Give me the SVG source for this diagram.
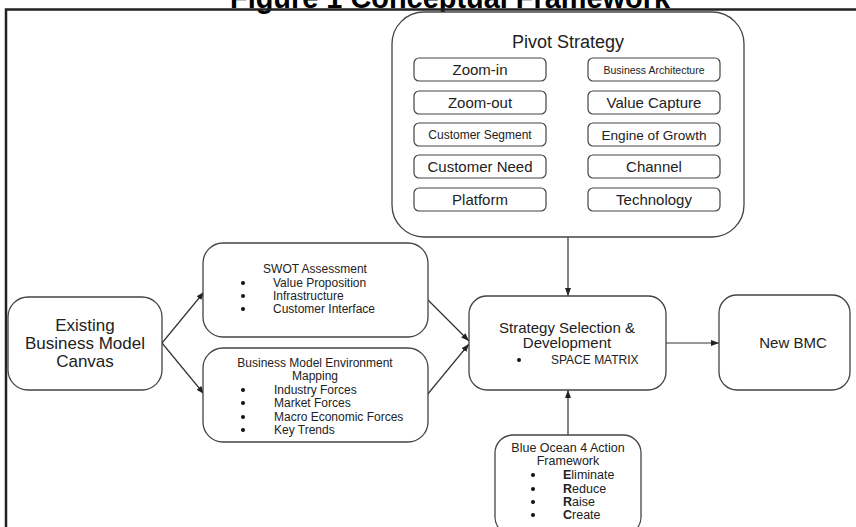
<svg xmlns="http://www.w3.org/2000/svg" width="856" height="527" viewBox="0 0 856 527">
<style>
.box{fill:#fff;stroke:#444;stroke-width:1.3}
.sb{fill:#fff;stroke:#444;stroke-width:1.2}
text{font-family:"Liberation Sans",Arial,sans-serif;fill:#222}
.c{text-anchor:middle}
.conn{stroke:#333;stroke-width:1.2;fill:none;marker-end:url(#ah)}
.dot{fill:#111}
.s15{font-size:15px}
.s12{font-size:12px}
.s13{font-size:13px}
.s125{font-size:12.5px}
</style>
<defs>
<marker id="ah" markerWidth="8" markerHeight="6" refX="8" refY="3" orient="auto" markerUnits="userSpaceOnUse"><path d="M0,0 L8,3 L0,6 z" fill="#222"/></marker>
</defs>
<rect width="856" height="527" fill="#fff"/>
<text x="230" y="8" font-size="30" font-weight="bold" textLength="440" lengthAdjust="spacingAndGlyphs" style="fill:#000">Figure 1 Conceptual Framework</text>
<path d="M6,527 V9.5 H856" stroke="#222" stroke-width="2.5" fill="none"/>

<g id="connectors">
<path class="conn" d="M162,343 L204,292"/>
<path class="conn" d="M162,343 L204,394"/>
<path class="conn" d="M427,299 L469,341"/>
<path class="conn" d="M427,395 L469,344"/>
<path class="conn" d="M568,237 V296"/>
<path class="conn" d="M666,343 H719"/>
<path class="conn" d="M568,435 V390"/>
</g>

<g id="pivot">
<rect class="box" x="392" y="12" width="352" height="225" rx="32"/>
<text x="568" y="48" class="c" font-size="18">Pivot Strategy</text>
<rect class="sb" x="414" y="58" width="132" height="23" rx="5"/>
<text x="480" y="75" class="c s15">Zoom-in</text>
<rect class="sb" x="414" y="91" width="132" height="23" rx="5"/>
<text x="480" y="108" class="c s15">Zoom-out</text>
<rect class="sb" x="414" y="123" width="132" height="23" rx="5"/>
<text x="480" y="139" class="c s12">Customer Segment</text>
<rect class="sb" x="414" y="155" width="132" height="23" rx="5"/>
<text x="480" y="172" class="c s15">Customer Need</text>
<rect class="sb" x="414" y="188" width="132" height="23" rx="5"/>
<text x="480" y="205" class="c s15">Platform</text>
<rect class="sb" x="588" y="58" width="132" height="23" rx="5"/>
<text x="654" y="73.5" class="c" font-size="10.5">Business Architecture</text>
<rect class="sb" x="588" y="91" width="132" height="23" rx="5"/>
<text x="654" y="108" class="c s15">Value Capture</text>
<rect class="sb" x="588" y="123" width="132" height="23" rx="5"/>
<text x="654" y="140" class="c" font-size="13.6">Engine of Growth</text>
<rect class="sb" x="588" y="155" width="132" height="23" rx="5"/>
<text x="654" y="172" class="c s15">Channel</text>
<rect class="sb" x="588" y="188" width="132" height="23" rx="5"/>
<text x="654" y="205" class="c s15">Technology</text>
</g>

<g id="existing">
<rect class="box" x="8" y="297" width="154" height="93" rx="20"/>
<text x="85" y="331" class="c" font-size="17">Existing</text>
<text x="85" y="349" class="c" font-size="17">Business Model</text>
<text x="85" y="367" class="c" font-size="17">Canvas</text>
</g>

<g id="swot">
<rect class="box" x="203" y="243" width="225" height="94" rx="20"/>
<text x="315" y="273" class="c s12">SWOT Assessment</text>
<circle class="dot" cx="243" cy="283" r="2"/><text x="273" y="287" class="s12">Value Proposition</text>
<circle class="dot" cx="243" cy="296" r="2"/><text x="273" y="300" class="s12">Infrastructure</text>
<circle class="dot" cx="243" cy="309" r="2"/><text x="273" y="313" class="s12">Customer Interface</text>
</g>

<g id="bme">
<rect class="box" x="203" y="348" width="225" height="94" rx="20"/>
<text x="315" y="367" class="c s12">Business Model Environment</text>
<text x="315" y="380" class="c s12">Mapping</text>
<circle class="dot" cx="243" cy="390" r="2"/><text x="274" y="394" class="s12">Industry Forces</text>
<circle class="dot" cx="243" cy="403" r="2"/><text x="274" y="407" class="s12">Market Forces</text>
<circle class="dot" cx="243" cy="417" r="2"/><text x="274" y="421" class="s12">Macro Economic Forces</text>
<circle class="dot" cx="243" cy="430" r="2"/><text x="274" y="434" class="s12">Key Trends</text>
</g>

<g id="strategy">
<rect class="box" x="469" y="296" width="197" height="94" rx="18"/>
<text x="567" y="333" class="c s15">Strategy Selection &amp;</text>
<text x="567" y="348" class="c s15">Development</text>
<circle class="dot" cx="519" cy="360" r="2"/><text x="551" y="364" class="s12">SPACE MATRIX</text>
</g>

<g id="newbmc">
<rect class="box" x="719" y="295" width="131" height="95" rx="18"/>
<text x="793" y="348" class="c s15">New BMC</text>
</g>

<g id="blueocean">
<rect class="box" x="495" y="435" width="146" height="100" rx="18"/>
<text x="568" y="452" class="c s125">Blue Ocean 4 Action</text>
<text x="568" y="465" class="c s125">Framework</text>
<circle class="dot" cx="533" cy="475" r="2"/><text x="563" y="479" class="s125"><tspan font-weight="bold">E</tspan>liminate</text>
<circle class="dot" cx="533" cy="489" r="2"/><text x="563" y="493" class="s125"><tspan font-weight="bold">R</tspan>educe</text>
<circle class="dot" cx="533" cy="502" r="2"/><text x="563" y="506" class="s125"><tspan font-weight="bold">R</tspan>aise</text>
<circle class="dot" cx="533" cy="515" r="2"/><text x="563" y="519" class="s125"><tspan font-weight="bold">C</tspan>reate</text>
</g>
</svg>
